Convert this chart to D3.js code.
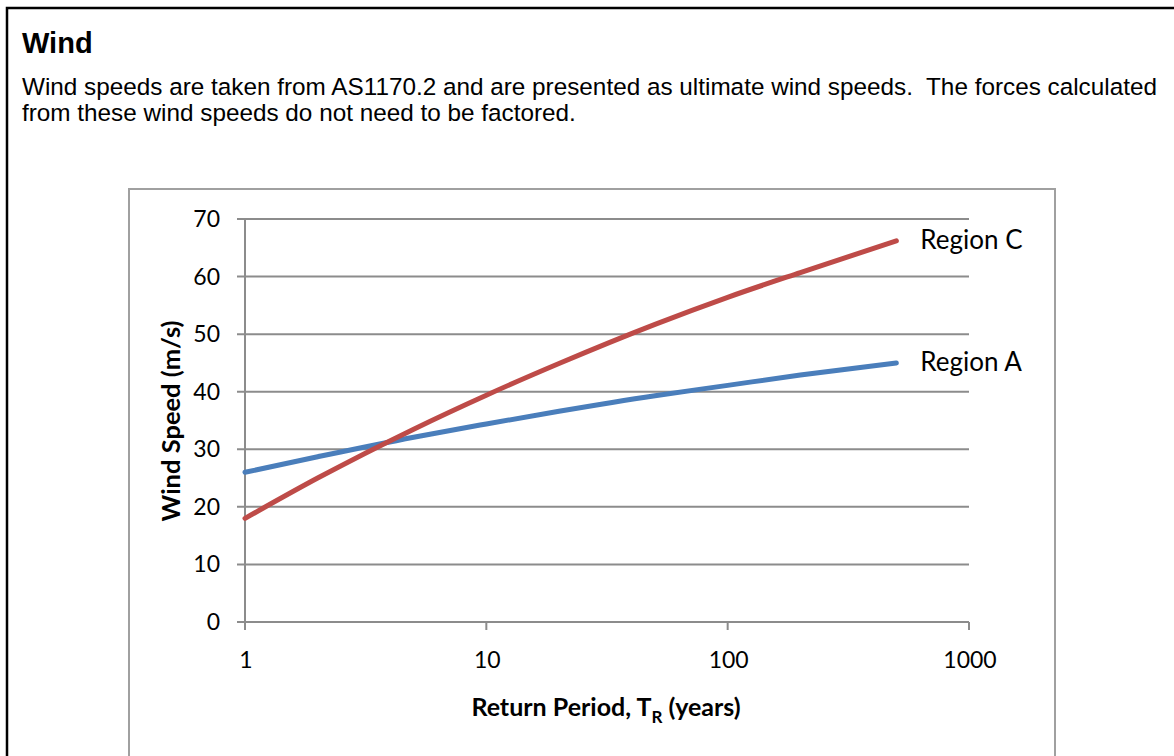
<!DOCTYPE html>
<html>
<head>
<meta charset="utf-8">
<script src="https://cdn.jsdelivr.net/npm/d3@7"></script>
<style>
  html, body { margin: 0; padding: 0; background: #fff; }
  svg { display: block; }
</style>
</head>
<body>
<svg id="chart" width="1174" height="756"></svg>
<script>
// Return periods (years)
const returnPeriods = [1, 2, 5, 10, 20, 50, 100, 200, 500];
// Wind speed (m/s) for each region
const regionA = [26, 28.7, 32.1, 34.4, 36.6, 39.3, 41.1, 42.9, 45.0];
const regionC = [18, 25.0, 33.5, 39.4, 44.9, 51.7, 56.4, 60.7, 66.2];
const seriesNames = ["Region A", "Region C"];
const seriesColors = ["#4a7ebb", "#be4b48"];
const yTicks = [0, 10, 20, 30, 40, 50, 60, 70];
const xTicks = [1, 10, 100, 1000];

const svg = d3.select("#chart");

// outer page box
svg.append("rect")
    .attr("x", 7).attr("y", 8)
    .attr("width", 1200).attr("height", 800)
    .attr("fill", "none").attr("stroke", "#000").attr("stroke-width", 2.5);

svg.append("text")
    .attr("x", 22).attr("y", 53)
    .style("font-family", "Liberation Sans, Arial, sans-serif")
    .style("font-size", "29px").style("font-weight", "bold")
    .text("Wind");

const bodyLines = [
    "Wind speeds are taken from AS1170.2 and are presented as ultimate wind speeds.  The forces calculated",
    "from these wind speeds do not need to be factored."
];
svg.selectAll(".body")
    .data(bodyLines)
    .enter().append("text")
    .attr("class", "body")
    .attr("x", 22).attr("y", (d, i) => 95 + i * 26)
    .style("font-family", "Liberation Sans, Arial, sans-serif")
    .style("font-size", "24.3px")
    .style("white-space", "pre")
    .text(d => d);

// chart area box
svg.append("rect")
    .attr("x", 129).attr("y", 189)
    .attr("width", 926).attr("height", 700)
    .attr("fill", "none").attr("stroke", "#a0a0a0").attr("stroke-width", 2);

const x = d3.scaleLog().domain([1, 1000]).range([245, 969]);
const y = d3.scaleLinear().domain([0, 70]).range([622, 219]);

const font = "Lato, Calibri, 'Noto Sans', sans-serif";

// gridlines
svg.append("g")
    .selectAll("line")
    .data(yTicks)
    .enter().append("line")
    .attr("x1", x(1) - 8).attr("x2", x(1000))
    .attr("y1", d => y(d)).attr("y2", d => y(d))
    .attr("stroke", "#8c8c8c").attr("stroke-width", 2);

// y axis line
svg.append("line")
    .attr("x1", x(1)).attr("x2", x(1))
    .attr("y1", y(70)).attr("y2", y(0) + 8)
    .attr("stroke", "#8c8c8c").attr("stroke-width", 2);

// x ticks
svg.append("g")
    .selectAll("line")
    .data(xTicks)
    .enter().append("line")
    .attr("x1", d => x(d)).attr("x2", d => x(d))
    .attr("y1", y(0)).attr("y2", y(0) + 8)
    .attr("stroke", "#8c8c8c").attr("stroke-width", 2);

svg.append("g")
    .selectAll("text")
    .data(yTicks)
    .enter().append("text")
    .attr("x", x(1) - 25).attr("y", d => y(d) + 8)
    .attr("text-anchor", "end")
    .style("font-family", font).style("font-size", "23px")
    .text(d => d);

svg.append("g")
    .selectAll("text")
    .data(xTicks)
    .enter().append("text")
    .attr("x", d => x(d) + 1).attr("y", y(0) + 46)
    .attr("text-anchor", "middle")
    .style("font-family", font).style("font-size", "23px")
    .text(d => d);

// axis titles
const xt = svg.append("text")
    .attr("x", 606).attr("y", 716)
    .attr("text-anchor", "middle")
    .style("font-family", font).style("font-size", "25px").style("font-weight", "bold");
xt.append("tspan").text("Return Period, T");
xt.append("tspan").attr("dy", 7).style("font-size", "17px").text("R");
xt.append("tspan").attr("dy", -7).text(" (years)");

svg.append("text")
    .attr("transform", "translate(180,421) rotate(-90)")
    .attr("text-anchor", "middle")
    .style("font-family", font).style("font-size", "25.5px").style("font-weight", "bold")
    .text("Wind Speed (m/s)");

// series
const line = d3.line()
    .x(d => x(d[0]))
    .y(d => y(d[1]))
    .curve(d3.curveMonotoneX);

const series = [regionA, regionC].map((vals, i) => ({
    name: seriesNames[i],
    color: seriesColors[i],
    points: returnPeriods.map((r, j) => [r, vals[j]])
}));

svg.append("g")
    .selectAll("path")
    .data(series)
    .enter().append("path")
    .attr("d", d => line(d.points))
    .attr("fill", "none")
    .attr("stroke", d => d.color)
    .attr("stroke-width", 5)
    .attr("stroke-linecap", "round");

svg.append("g")
    .selectAll("text")
    .data(series)
    .enter().append("text")
    .attr("x", d => x(d.points[d.points.length - 1][0]) + 24)
    .attr("y", d => y(d.points[d.points.length - 1][1]) + 8)
    .style("font-family", font).style("font-size", "26px")
    .text(d => d.name);
</script>
</body>
</html>
